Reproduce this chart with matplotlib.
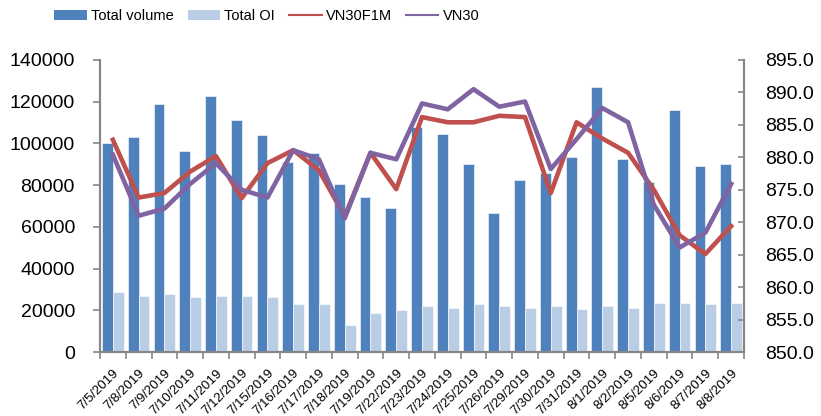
import numpy as np
import matplotlib.pyplot as plt
import matplotlib.transforms as mtransforms
from matplotlib.patches import Patch
from matplotlib.lines import Line2D
from matplotlib.ticker import FormatStrFormatter, FixedLocator

dates = ["7/5/2019", "7/8/2019", "7/9/2019", "7/10/2019", "7/11/2019", "7/12/2019",
         "7/15/2019", "7/16/2019", "7/17/2019", "7/18/2019", "7/19/2019", "7/22/2019",
         "7/23/2019", "7/24/2019", "7/25/2019", "7/26/2019", "7/29/2019", "7/30/2019",
         "7/31/2019", "8/1/2019", "8/2/2019", "8/5/2019", "8/6/2019", "8/7/2019", "8/8/2019"]

total_volume = [100000, 103000, 119000, 96500, 122500, 111000, 104000, 91000, 95500, 80500,
                74500, 69000, 108000, 104400, 90000, 66500, 82500, 86000, 93300, 127000,
                92500, 81700, 116000, 89200, 90000]

total_oi = [29000, 27000, 27800, 26200, 27000, 27000, 26200, 22900, 22900, 12800,
            18500, 20100, 22000, 21200, 22900, 22000, 21200, 22000, 20500, 22000,
            21200, 23600, 23600, 22900, 23600]

vn30f1m = [882.7, 873.8, 874.5, 877.8, 880.2, 873.7, 879.1, 881.1, 878.0, 870.9,
           880.7, 875.1, 886.2, 885.4, 885.4, 886.4, 886.2, 874.5, 885.4, 882.9,
           880.7, 875.0, 868.0, 865.1, 869.4]

vn30 = [880.4, 871.0, 872.1, 875.9, 879.1, 875.0, 873.8, 881.1, 879.7, 870.6,
        880.7, 879.7, 888.3, 887.4, 890.5, 887.8, 888.6, 878.2, 882.8, 887.6,
        885.4, 872.7, 866.1, 868.4, 875.9]

C_DARK = "#4F81BD"
C_LIGHT = "#B9CDE5"
C_RED = "#C0504D"
C_PURPLE = "#8064A2"
GRAY = "#868686"

plt.rcParams['font.family'] = ['Liberation Sans', 'DejaVu Sans']

fig = plt.figure(figsize=(8.21, 4.16), dpi=100)
ax = fig.add_axes([0.1218, 0.1538, 0.7844, 0.702])
ax2 = ax.twinx()

x = np.arange(len(dates))
w = 0.42
ax.bar(x - w / 2, total_volume, width=w, color=C_DARK, edgecolor="white", linewidth=0.4)
ax.bar(x + w / 2, total_oi, width=w, color=C_LIGHT, edgecolor="white", linewidth=0.4)

ax2.plot(x, vn30f1m, color=C_RED, lw=3.3)
ax2.plot(x, vn30, color=C_PURPLE, lw=3.3)

ax.set_xlim(-0.5, len(dates) - 0.5)
ax.set_ylim(0, 140000)
ax2.set_ylim(850, 895)
ax.set_yticks(np.arange(0, 140001, 20000))
ax2.set_yticks(np.arange(850, 895.1, 5))
ax2.yaxis.set_major_formatter(FormatStrFormatter("%.1f"))

ax.set_xticks(x)
ax.set_xticklabels(dates, rotation=45, ha="right", va="top", rotation_mode="anchor",
                   fontsize=9.5)
shift = mtransforms.ScaledTranslation(3 / 100, 0, fig.dpi_scale_trans)
for lab in ax.get_xticklabels():
    lab.set_transform(lab.get_transform() + shift)
ax.xaxis.set_minor_locator(FixedLocator(np.arange(-0.5, len(dates), 1.0)))
ax.tick_params(axis="x", which="major", length=0, pad=11)
ax.tick_params(axis="x", which="minor", length=5, color=GRAY, width=1.2, direction="out")

ax.tick_params(axis="y", labelsize=14, length=5, color=GRAY, width=1.2, direction="out", pad=13)
ax2.tick_params(axis="y", labelsize=14, length=4, color=GRAY, width=1.2, direction="in", pad=15)

for a in (ax, ax2):
    a.spines["top"].set_visible(False)
    for s in ("left", "right", "bottom"):
        a.spines[s].set_color(GRAY)
        a.spines[s].set_linewidth(1.5)

handles = [Patch(facecolor=C_DARK), Patch(facecolor=C_LIGHT),
           Line2D([], [], color=C_RED, lw=1.5), Line2D([], [], color=C_PURPLE, lw=1.5)]
labels = ["Total volume", "Total OI", "VN30F1M", "VN30"]
fig.legend(handles, labels, loc="center", bbox_to_anchor=(0.325, 0.962), ncol=4,
           frameon=False, fontsize=10.5,
           handlelength=2.2, handleheight=0.7, columnspacing=1.0, handletextpad=0.28)

fig.savefig("out.png", dpi=100)
